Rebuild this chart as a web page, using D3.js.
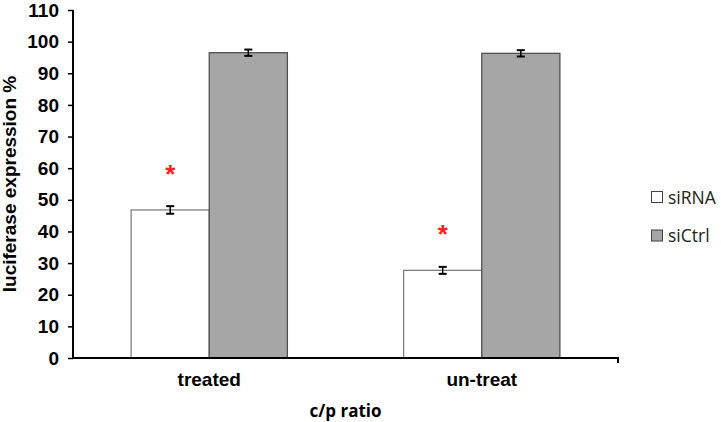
<!DOCTYPE html>
<html><head><meta charset="utf-8">
<script src="https://cdn.jsdelivr.net/npm/d3@7"></script>
<style>body{margin:0;background:#fff}svg{display:block}</style>
</head><body>
<svg id="c" width="721" height="422"></svg>
<script>
const categories = ["treated", "un-treat"];
const seriesNames = ["siRNA", "siCtrl"];
const siRNA = [46.8, 27.7];
const siRNAErr = [1.2, 1.1];
const siCtrl = [96.5, 96.3];
const siCtrlErr = [1.0, 1.0];
const significant = [true, true];
const yTicks = [0,10,20,30,40,50,60,70,80,90,100,110];
const colors = ["#ffffff", "#a6a6a6"];

const svg = d3.select("#c");
const L = 73, R = 618, T = 10, B = 358;
const x = d3.scaleBand().domain(categories).range([L, R]).paddingInner(0).paddingOuter(0);
const xs = d3.scaleBand().domain(seriesNames).range([0, x.bandwidth()]).paddingInner(0).paddingOuter(0.744);
const y = d3.scaleLinear().domain([0, 110]).range([B, T]);

const data = [siRNA, siCtrl];
const errs = [siRNAErr, siCtrlErr];

seriesNames.forEach((s, si) => {
  const g = svg.append("g");
  g.selectAll("rect").data(categories).join("rect")
    .attr("x", (c) => x(c) + xs(s))
    .attr("y", (c, i) => y(data[si][i]))
    .attr("width", xs.bandwidth())
    .attr("height", (c, i) => B - y(data[si][i]))
    .attr("fill", colors[si])
    .attr("stroke", si === 0 ? "#7f7f7f" : "#505050")
    .attr("stroke-width", 1.3);
  categories.forEach((c, i) => {
    const cx = x(c) + xs(s) + xs.bandwidth() / 2;
    const v = data[si][i], e = errs[si][i];
    g.append("line").attr("x1", cx).attr("x2", cx).attr("y1", y(v + e)).attr("y2", y(v - e)).attr("stroke", "#000").attr("stroke-width", 1.5);
    [v + e, v - e].forEach(w => g.append("line").attr("x1", cx - 4).attr("x2", cx + 4).attr("y1", y(w)).attr("y2", y(w)).attr("stroke", "#000").attr("stroke-width", 2));
  });
});

// significance stars
categories.forEach((c, i) => {
  if (!significant[i]) return;
  const cx = x(c) + xs("siRNA") + xs.bandwidth() / 2;
  svg.append("text").attr("x", cx).attr("y", y(siRNA[i]) - 27)
    .attr("text-anchor", "middle").attr("fill", "#ff2020")
    .attr("font-family", "Liberation Sans, Arial, sans-serif").attr("font-size", 26).attr("font-weight", "bold")
    .text("*");
});

const arial = "Liberation Sans, Arial, sans-serif";
// y axis
const yAxis = svg.append("g").attr("transform", `translate(${L},0)`)
  .call(d3.axisLeft(y).tickValues(yTicks).tickSize(5).tickPadding(9).tickSizeOuter(0));
yAxis.select(".domain").attr("stroke", "#000").attr("stroke-width", 2).attr("d", `M0,${T}V${B}`);
yAxis.selectAll(".tick line").attr("stroke", "#000").attr("stroke-width", 1.5);
yAxis.selectAll("text").attr("font-family", arial).attr("font-weight", "bold").attr("font-size", 19).attr("fill", "#000");

// x axis
const xAxis = svg.append("g").attr("transform", `translate(0,${B})`)
  .call(d3.axisBottom(x).tickSize(0).tickPadding(15));
xAxis.select(".domain").attr("stroke", "#000").attr("stroke-width", 2).attr("d", `M${L},0H${R}V5`);
xAxis.selectAll("text").attr("font-family", arial).attr("font-weight", "bold").attr("font-size", 19).attr("fill", "#000");

// axis titles
svg.append("text").attr("transform", `translate(16,${(T + B) / 2}) rotate(-90)`)
  .attr("text-anchor", "middle").attr("font-family", arial)
  .attr("font-weight", "bold").attr("font-size", 19).text("luciferase expression %");
svg.append("text").attr("x", (L + R) / 2).attr("y", 417)
  .attr("text-anchor", "middle").attr("font-family", "Open Sans, Noto Sans, sans-serif")
  .attr("font-weight", "bold").attr("font-size", 17).text("c/p ratio");

// legend
const lg = svg.append("g");
seriesNames.forEach((s, i) => {
  const yy = 191 + i * 38.5;
  lg.append("rect").attr("x", 651.5).attr("y", yy + 0.5).attr("width", 11).attr("height", 11)
    .attr("fill", colors[i]).attr("stroke", "#404040").attr("stroke-width", 1);
  lg.append("text").attr("x", 668).attr("y", yy + 12.5).attr("font-family", "Open Sans, Noto Sans, sans-serif")
    .attr("font-size", 17.5).attr("fill", "#222").text(s);
});
</script>
</body></html>
